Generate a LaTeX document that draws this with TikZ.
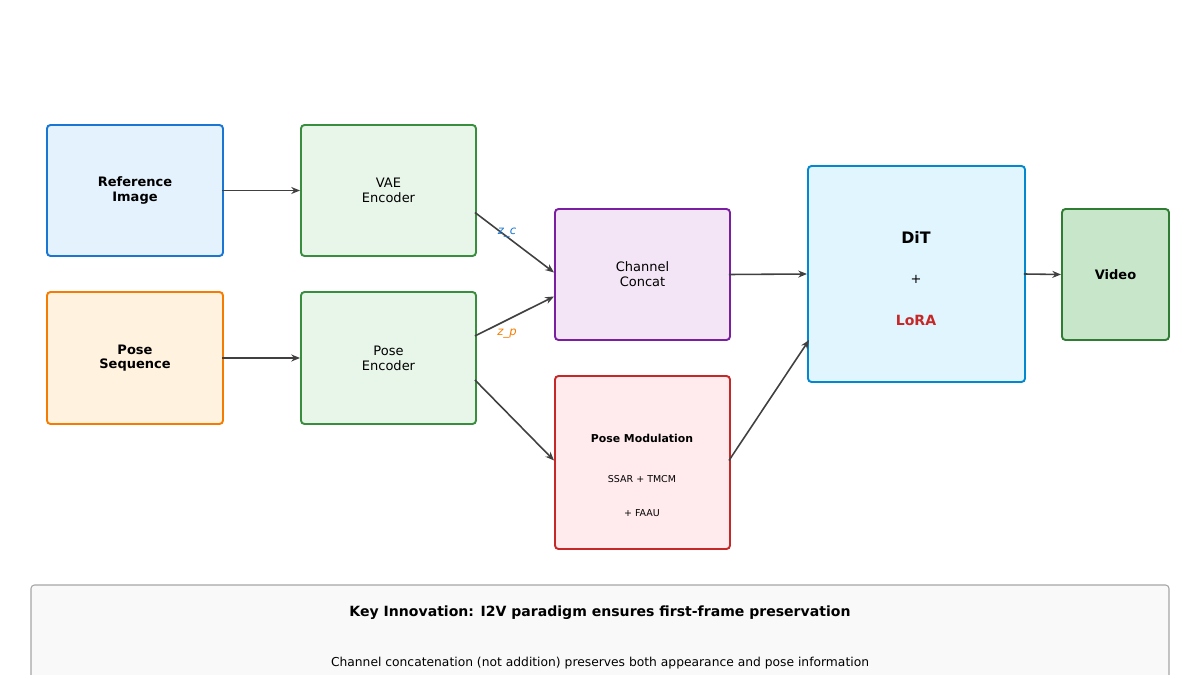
\documentclass[tikz,border=0pt]{standalone}
\usepackage{fontspec}
\setmainfont{DejaVu Sans}
\usetikzlibrary{calc,arrows.meta}
\definecolor{bRef}{HTML}{1976D2}\definecolor{fRef}{HTML}{E3F2FD}
\definecolor{bPose}{HTML}{F57C00}\definecolor{fPose}{HTML}{FFF3E0}
\definecolor{bEnc}{HTML}{388E3C}\definecolor{fEnc}{HTML}{E8F5E9}
\definecolor{bCC}{HTML}{7B1FA2}\definecolor{fCC}{HTML}{F3E5F5}
\definecolor{bPM}{HTML}{C62828}\definecolor{fPM}{HTML}{FFEBEE}
\definecolor{bDiT}{HTML}{0288D1}\definecolor{fDiT}{HTML}{E1F5FE}
\definecolor{bVid}{HTML}{2E7D32}\definecolor{fVid}{HTML}{C8E6C9}
\definecolor{arr}{HTML}{404040}
\begin{document}
\begin{tikzpicture}[x=0.02cm,y=-0.02cm,
 box/.style={draw,line width=1.1pt,rounded corners=2pt,align=center,inner sep=0pt,font=\fontsize{7.4}{8.4}\selectfont},
 conn/.style={draw=arr,line width=0.9pt,-{Stealth[length=5pt,width=4pt]}},
 lab/.style={font=\fontsize{6.6}{7}\selectfont\itshape}]
\useasboundingbox (0,0) rectangle (1200,675);
\node[box,draw=bRef,fill=fRef,minimum width=176*0.02cm,minimum height=131*0.02cm,font=\fontsize{7.4}{8.4}\selectfont\bfseries] (ref) at (135,190.5) {Reference\\Image};
\node[box,draw=bPose,fill=fPose,minimum width=176*0.02cm,minimum height=132*0.02cm,font=\fontsize{7.4}{8.4}\selectfont\bfseries] (pseq) at (135,358) {Pose\\Sequence};
\node[box,draw=bEnc,fill=fEnc,minimum width=175*0.02cm,minimum height=131*0.02cm] (vae) at (388.5,190.5) {VAE\\Encoder};
\node[box,draw=bEnc,fill=fEnc,minimum width=175*0.02cm,minimum height=132*0.02cm] (penc) at (388.5,358) {Pose\\Encoder};
\node[box,draw=bCC,fill=fCC,minimum width=175*0.02cm,minimum height=131*0.02cm] (cc) at (642.5,274.5) {Channel\\Concat};
\node[box,draw=bPM,fill=fPM,minimum width=175*0.02cm,minimum height=173*0.02cm] (pm) at (642.5,462.5) {};
\node[font=\fontsize{6.2}{7}\selectfont\bfseries] (pmt) at (642,438) {Pose Modulation};
\node[font=\fontsize{5.4}{6}\selectfont] (pm1) at (642,479) {SSAR + TMCM};
\node[font=\fontsize{5.4}{6}\selectfont] (pm2) at (642,513) {+ FAAU};
\node[box,draw=bDiT,fill=fDiT,minimum width=217*0.02cm,minimum height=216*0.02cm] (dit) at (916.5,274) {};
\node[font=\fontsize{9}{10}\selectfont\bfseries] (ditt) at (916,237) {DiT};
\node[font=\fontsize{7.4}{8}\selectfont] (plus) at (916,279) {+};
\node[font=\fontsize{8}{9}\selectfont\bfseries,text=bPM] (lora) at (916,320) {LoRA};
\node[box,draw=bVid,fill=fVid,minimum width=107*0.02cm,minimum height=131*0.02cm,font=\fontsize{7.4}{8.4}\selectfont\bfseries] (vid) at (1115.5,274.5) {Video};
\draw[draw=gray!70,fill=gray!5,line width=0.6pt,rounded corners=2pt] (31,585) rectangle (1169,690);
\node[font=\fontsize{8}{9}\selectfont\bfseries] (kt) at (600,613) {Key Innovation: I2V paradigm ensures first-frame preservation};
\node[font=\fontsize{7}{8}\selectfont] (kd) at (600,663) {Channel concatenation (not addition) preserves both appearance and pose information};
\draw[conn] ($(ref.east)+(-2,0)$) -- (vae.west);
\draw[conn] ($(pseq.east)+(-2,0)$) -- (penc.west);
\draw[conn] ($(vae.east)+(-2,22)$) -- ($(cc.west)+(0,-2)$);
\draw[conn] ($(penc.east)+(-2,-22)$) -- ($(cc.west)+(0,22)$);
\draw[conn] ($(penc.east)+(-2,22)$) -- ($(pm.west)+(0,-2)$);
\draw[conn] ($(cc.east)+(-2,0)$) -- (dit.west);
\draw[conn] ($(pm.east)+(-2,-2)$) -- ($(dit.west)+(2,66)$);
\draw[conn] ($(dit.east)+(-2,0)$) -- (vid.west);
\node[lab,text=bRef] (zc) at (507,233) {z\_c};
\node[lab,text=bPose] (zp) at (507,334) {z\_p};
\end{tikzpicture}
\end{document}
